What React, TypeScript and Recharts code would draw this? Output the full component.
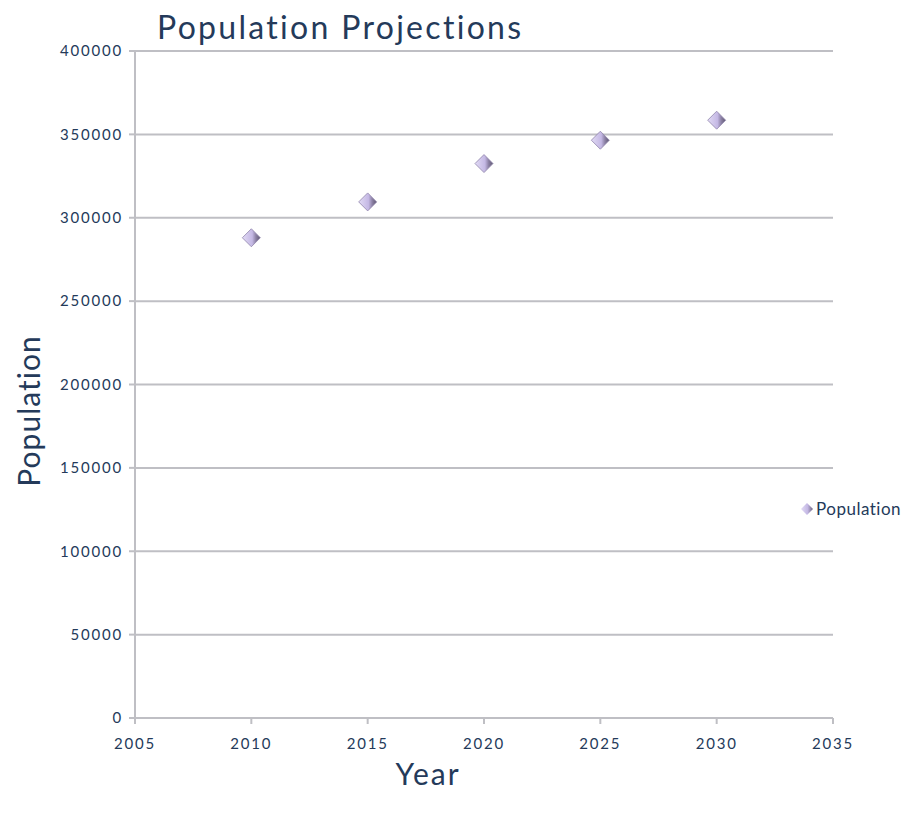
import { ScatterChart, Scatter, XAxis, YAxis, CartesianGrid } from 'recharts';

const YEARS = [2010, 2015, 2020, 2025, 2030];
const POPULATION = [288000, 309500, 332500, 346500, 358500];
const X_TICKS = [2005, 2010, 2015, 2020, 2025, 2030, 2035];
const Y_TICKS = [0, 50000, 100000, 150000, 200000, 250000, 300000, 350000, 400000];
const SERIES_NAME = 'Population';

const data = YEARS.map((year, i) => ({ year, population: POPULATION[i] }));

const FONT = 'Lato, "DejaVu Sans", sans-serif';
const TEXT = '#243a5a';
const GRID = '#bfbfc4';

function Diamond(props: any) {
  const { cx, cy } = props;
  const r = 9;
  return (
    <polygon
      points={`${cx},${cy - r} ${cx + r},${cy} ${cx},${cy + r} ${cx - r},${cy}`}
      fill="url(#diamondGrad)"
      stroke="#8f84ab"
      strokeWidth={0.8}
    />
  );
}

const tickStyle = { fill: TEXT, fontSize: 15, fontFamily: FONT, letterSpacing: 1.8 };

export default function App() {
  return (
    <div style={{ position: 'absolute', left: 0, top: 0, width: 917, height: 823, background: '#fff', fontFamily: FONT, color: TEXT }}>
      <div style={{ position: 'absolute', left: 157, top: 7, fontSize: 32, lineHeight: '40px', letterSpacing: 2.3, whiteSpace: 'nowrap' }}>
        Population Projections
      </div>
      <ScatterChart width={917} height={823} margin={{ top: 51, right: 84, left: 0, bottom: 65 }}>
        <defs>
          <linearGradient id="diamondGrad" x1="0" y1="0" x2="1" y2="0">
            <stop offset="0%" stopColor="#e2dbf5" />
            <stop offset="55%" stopColor="#c4b8e4" />
            <stop offset="75%" stopColor="#8d82a6" />
            <stop offset="100%" stopColor="#5d5670" />
          </linearGradient>
        </defs>
        <CartesianGrid vertical={false} stroke={GRID} strokeWidth={2} />
        <XAxis
          type="number"
          dataKey="year"
          domain={[2005, 2035]}
          ticks={X_TICKS}
          height={40}
          stroke={GRID}
          strokeWidth={2}
          tickSize={6}
          tickMargin={14}
          tick={tickStyle}
        />
        <YAxis
          type="number"
          dataKey="population"
          domain={[0, 400000]}
          ticks={Y_TICKS}
          width={135}
          stroke={GRID}
          strokeWidth={2}
          tickSize={6}
          tickMargin={6}
          tick={tickStyle}
        />
        <Scatter name={SERIES_NAME} data={data} fill="#c4b8e4" shape={Diamond} isAnimationActive={false} />
      </ScatterChart>
      <div
        style={{
          position: 'absolute',
          left: 28,
          top: 411,
          fontSize: 30,
          letterSpacing: 1,
          whiteSpace: 'nowrap',
          transform: 'translate(-50%, -50%) rotate(-90deg)',
        }}
      >
        Population
      </div>
      <div style={{ position: 'absolute', left: 428, top: 773, fontSize: 30, letterSpacing: 2, transform: 'translate(-50%, -50%)' }}>
        Year
      </div>
      <div style={{ position: 'absolute', left: 800, top: 498, display: 'flex', alignItems: 'center', fontSize: 17, letterSpacing: 0.5, whiteSpace: 'nowrap' }}>
        <svg width={14} height={14} style={{ marginRight: 2 }}>
          <defs>
            <linearGradient id="legendGrad" x1="0" y1="0" x2="1" y2="0">
              <stop offset="0%" stopColor="#e2dbf5" />
              <stop offset="55%" stopColor="#c4b8e4" />
              <stop offset="100%" stopColor="#6d6480" />
            </linearGradient>
          </defs>
          <polygon points="7,1 13,7 7,13 1,7" fill="url(#legendGrad)" />
        </svg>
        <span>{SERIES_NAME}</span>
      </div>
    </div>
  );
}
